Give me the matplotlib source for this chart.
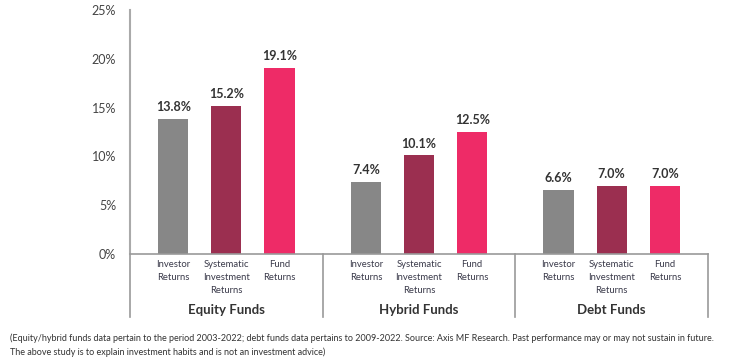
import matplotlib.pyplot as plt

groups = ['Equity Funds', 'Hybrid Funds', 'Debt Funds']
categories = ['Investor\nReturns', 'Systematic\nInvestment\nReturns', 'Fund\nReturns']
investor = [13.8, 7.4, 6.6]
systematic = [15.2, 10.1, 7.0]
fund = [19.1, 12.5, 7.0]
colors = ['#878787', '#9b2f50', '#ee2b67']
yticks = [0, 5, 10, 15, 20, 25]

plt.rcParams['font.family'] = ['Lato', 'DejaVu Sans']

fig = plt.figure(figsize=(7.39, 3.6), dpi=100)
ax = fig.add_axes([130 / 739, 106 / 360, 578 / 739, 244 / 360])

offsets = [-0.276, 0, 0.276]
width = 0.156
series = [investor, systematic, fund]
for s, off, c in zip(series, offsets, colors):
    xs = [i + off for i in range(len(groups))]
    ax.bar(xs, s, width=width, color=c, zorder=2)
    for x, v in zip(xs, s):
        ax.text(x, v + 0.6, f'{v:.1f}%', ha='center', va='bottom',
                fontsize=9, fontweight='bold', color='#333333')

ax.set_xlim(-0.5, 2.5)
ax.set_ylim(0, 25)
ax.set_yticks(yticks)
ax.set_yticklabels([f'{t}%' for t in yticks], fontsize=9, color='#444444')
ax.tick_params(axis='y', length=0, pad=10)
ax.set_xticks([])
for sp in ['top', 'right']:
    ax.spines[sp].set_visible(False)
ax.spines['left'].set_color('#aaaaaa')
ax.spines['left'].set_linewidth(1.5)
ax.spines['bottom'].set_color('#999999')
ax.spines['bottom'].set_linewidth(1.2)

# group separators below the axis
for x in [-0.5, 0.5, 1.5, 2.5]:
    ax.axvline(x, ymin=-0.26, ymax=0, color='#999999', lw=1.2, clip_on=False)

tr = ax.get_xaxis_transform()
for i, g in enumerate(groups):
    for off, cat in zip(offsets, categories):
        ax.text(i + off, -0.025, cat, transform=tr, ha='center', va='top',
                fontsize=6.8, color='#3a3a4a', linespacing=1.55)
    ax.text(i, -0.23, g, transform=tr, ha='center', va='center',
            fontsize=9.5, fontweight='bold', color='#333333')

fig.text(10 / 739, 1 - 338 / 360,
         '(Equity/hybrid funds data pertain to the period 2003-2022; debt funds data pertains to 2009-2022. '
         'Source: Axis MF Research. Past performance may or may not sustain in future.',
         fontsize=6.5, color='#333333', va='center')
fig.text(10 / 739, 1 - 352 / 360,
         'The above study is to explain investment habits and is not an investment advice)',
         fontsize=6.5, color='#333333', va='center')

fig.savefig('out.png', dpi=100)
